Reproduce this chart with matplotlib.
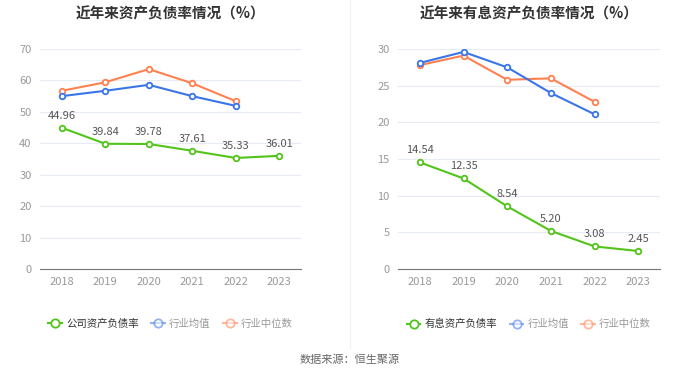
"""Two-panel debt-ratio comparison chart."""

import matplotlib

matplotlib.use("Agg")
import matplotlib.pyplot as plt
from matplotlib.lines import Line2D

plt.rcParams["font.family"] = ["Noto Sans CJK SC", "DejaVu Sans"]

YEARS = ["2018", "2019", "2020", "2021", "2022", "2023"]
INDUSTRY_YEARS = YEARS[:5]

DEBT_RATIO = [44.96, 39.84, 39.78, 37.61, 35.33, 36.01]
DEBT_MEAN = [55.0, 56.7, 58.6, 55.0, 51.9]
DEBT_MEDIAN = [56.7, 59.4, 63.6, 59.1, 53.4]

INT_DEBT_RATIO = [14.54, 12.35, 8.54, 5.20, 3.08, 2.45]
INT_MEAN = [28.1, 29.6, 27.5, 24.0, 21.1]
INT_MEDIAN = [27.8, 29.1, 25.8, 26.0, 22.8]

GREEN = "#52C41A"
BLUE = "#3A75E8"
ORANGE = "#FF8050"
TICK = "#999999"
GRID = "#E6EBF5"


def draw_panel(axis, title, company, mean, median, ymax, step, series_name):
    x = list(range(len(YEARS)))
    xi = list(range(len(INDUSTRY_YEARS)))
    axis.plot(xi, median, color=ORANGE, lw=1.5, marker="o", ms=4, mfc="white", mew=1.3, zorder=3)
    axis.plot(xi, mean, color=BLUE, lw=1.5, marker="o", ms=4, mfc="white", mew=1.3, zorder=3)
    axis.plot(x, company, color=GREEN, lw=1.5, marker="o", ms=4, mfc="white", mew=1.3, zorder=4)
    for xv, yv in zip(x, company):
        axis.annotate(f"{yv:.2f}", (xv, yv), xytext=(0, 5), textcoords="offset points",
                      ha="center", va="bottom", fontsize=8, color="#555555")
    axis.set_xlim(-0.5, len(YEARS) - 0.5)
    axis.set_ylim(0, ymax)
    axis.set_yticks(range(0, ymax + 1, step))
    axis.set_xticks(x, YEARS)
    axis.tick_params(axis="both", colors=TICK, labelsize=8, length=0, pad=6)
    axis.grid(axis="y", color=GRID, lw=0.8)
    axis.set_axisbelow(True)
    for side in ("top", "right", "left"):
        axis.spines[side].set_visible(False)
    axis.spines["bottom"].set_color("#777777")
    axis.set_title(title, fontsize=10.5, fontweight="bold", color="#333333", y=1.14, pad=0)

    handles = [
        Line2D([], [], color=GREEN, lw=1.5, marker="o", ms=6, mfc="white", mew=1.3),
        Line2D([], [], color=BLUE, lw=1.5, marker="o", ms=6, mfc="white", mew=1.3, alpha=0.55),
        Line2D([], [], color=ORANGE, lw=1.5, marker="o", ms=6, mfc="white", mew=1.3, alpha=0.55),
    ]
    legend = axis.legend(handles, [series_name, "行业均值", "行业中位数"], ncol=3,
                         loc="center", bbox_to_anchor=(0.5, -0.25), frameon=False,
                         fontsize=7.5, handlelength=1.3, handletextpad=0.4, columnspacing=1.2)
    for text, colour in zip(legend.get_texts(), ["#333333", "#999999", "#999999"]):
        text.set_color(colour)


figure = plt.figure(figsize=(7, 3.78), dpi=100)
left = figure.add_axes([40 / 700, 109 / 378, 261 / 700, 220 / 378])
right = figure.add_axes([398 / 700, 109 / 378, 262 / 700, 220 / 378])

draw_panel(left, "近年来资产负债率情况（%）", DEBT_RATIO, DEBT_MEAN, DEBT_MEDIAN, 70, 10, "公司资产负债率")
draw_panel(right, "近年来有息资产负债率情况（%）", INT_DEBT_RATIO, INT_MEAN, INT_MEDIAN, 30, 5, "有息资产负债率")

figure.add_artist(Line2D([350 / 700, 350 / 700], [30 / 378, 1.0], color="#F0F0F0", lw=0.8))
figure.text(0.5, 18 / 378, "数据来源：恒生聚源", ha="center", va="center", fontsize=8, color="#666666")

figure.savefig("out.png", dpi=100, facecolor="white")
